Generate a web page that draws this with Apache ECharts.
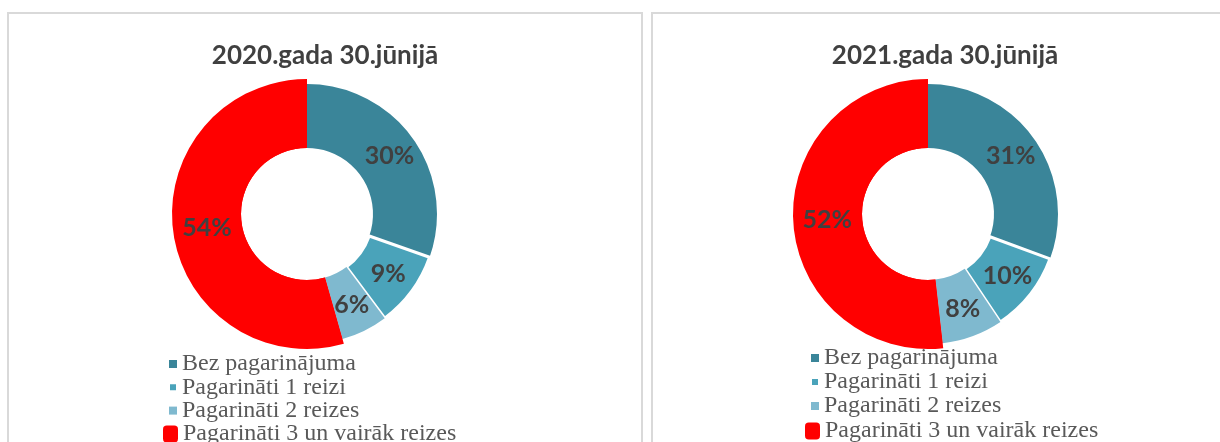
<!DOCTYPE html>
<html>
<head>
    <meta charset="UTF-8">
    <title>Pagarinājumi</title>
    <script src="https://cdn.jsdelivr.net/npm/echarts@6/dist/echarts.min.js"></script>
    <style>
        body { margin: 0; background: #ffffff; }
        #chart { width: 1220px; height: 442px; }
    </style>
</head>
<body>
    <div id="chart"></div>
    <script>
        // dati
        var categories = ['Bez pagarinājuma', 'Pagarināti 1 reizi', 'Pagarināti 2 reizes', 'Pagarināti 3 un vairāk reizes'];
        var titles = ['2020.gada 30.jūnijā', '2021.gada 30.jūnijā'];
        var values2020 = [30.4, 9.4, 5.8, 54.4];
        var values2021 = [30.6, 10.0, 7.6, 51.8];

        var colors = ['#3a8599', '#4aa3ba', '#7fb9cf', '#ff0000'];
        var chart = echarts.init(document.getElementById('chart'), null, {renderer: 'canvas'});

        function mainData(vals) {
            return categories.map(function (c, i) {
                var item = {name: c, value: vals[i], itemStyle: {color: colors[i]}};
                if (i == 1) {
                    item.itemStyle.borderColor = '#ffffff';
                    item.itemStyle.borderWidth = 3;
                }
                return item;
            });
        }
        // sarkanais sektors ir mazliet lielāks
        function bigData(vals) {
            return categories.map(function (c, i) {
                return {name: c, value: vals[i], itemStyle: {color: i == 3 ? colors[3] : 'rgba(0,0,0,0)'}};
            });
        }

        var labelStyle = {
            show: true,
            position: 'inside',
            fontFamily: 'Lato',
            fontWeight: 'bold',
            fontSize: 25,
            color: '#404040',
            formatter: function (p) { return Math.round(p.percent) + '%'; }
        };

        function mainSeries(vals, cx) {
            return {
                type: 'pie', z: 2, center: [cx, 214], radius: [66, 130],
                startAngle: 90, clockwise: true, silent: true, animation: false,
                label: labelStyle, labelLine: {show: false},
                data: mainData(vals)
            };
        }
        function bigSeries(vals, cx) {
            return {
                type: 'pie', z: 1, center: [cx, 214], radius: [66, 135],
                startAngle: 90, clockwise: true, silent: true, animation: false,
                label: {show: false}, labelLine: {show: false},
                data: bigData(vals)
            };
        }

        var legendText = {fontFamily: 'Liberation Serif', fontSize: 24, color: '#595959', lineHeight: 20};
        function legends(left, top, gap, redTop) {
            return [{
                orient: 'vertical', left: left + 1, top: top, padding: 0,
                itemWidth: 8, itemHeight: 8, itemGap: gap, selectedMode: false,
                textStyle: legendText,
                data: categories.slice(0, 3).map(function (c, i) {
                    return {name: c, icon: 'rect', itemStyle: {color: colors[i]}};
                })
            }, {
                orient: 'vertical', left: left - 4, top: redTop, padding: 0,
                itemWidth: 15, itemHeight: 17, selectedMode: false,
                textStyle: legendText,
                data: [{name: categories[3], icon: 'roundRect', itemStyle: {color: colors[3]}}]
            }];
        }

        var titleStyle = {fontFamily: 'Lato', fontWeight: 'bold', fontSize: 26, color: '#404040'};

        chart.setOption({
            animation: false,
            title: [
                {text: titles[0], left: 325, top: 43, textAlign: 'center', padding: 0, textStyle: titleStyle},
                {text: titles[1], left: 945, top: 43, textAlign: 'center', padding: 0, textStyle: titleStyle}
            ],
            legend: legends(167, 352, -0.7, 422).concat(legends(809, 346, 0, 419)),
            graphic: [
                {type: 'rect', shape: {x: 8, y: 13, width: 634, height: 500}, style: {fill: null, stroke: '#d9d9d9', lineWidth: 2}, silent: true},
                {type: 'rect', shape: {x: 652, y: 13, width: 620, height: 500}, style: {fill: null, stroke: '#d9d9d9', lineWidth: 2}, silent: true}
            ],
            series: [
                mainSeries(values2020, 307),
                mainSeries(values2021, 928),
                bigSeries(values2020, 307),
                bigSeries(values2021, 928)
            ]
        });
    </script>
</body>
</html>
